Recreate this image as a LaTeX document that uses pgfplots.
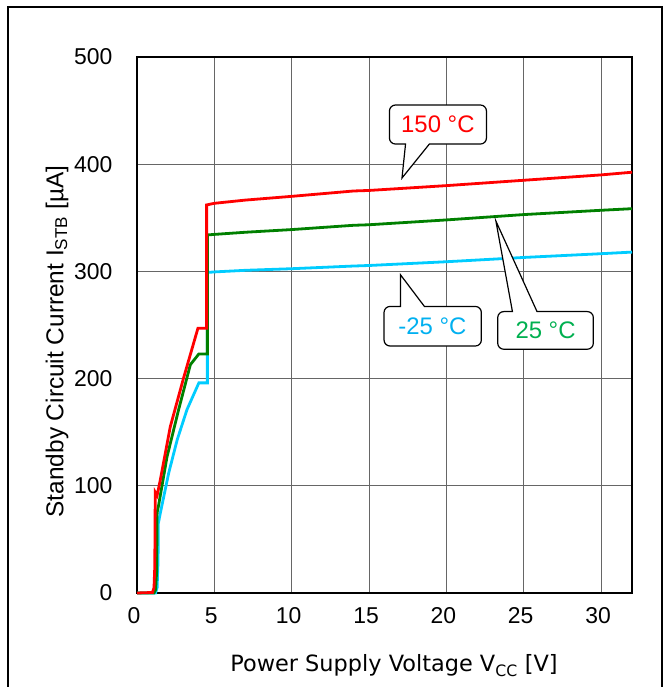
\documentclass[border=0pt]{standalone}
\usepackage{fontspec}
\setmainfont{Liberation Sans}
\newfontfamily\dejavu{DejaVu Sans}
\usepackage{pgfplots}
\pgfplotsset{compat=1.18}
\definecolor{lred}{RGB}{255,0,0}
\definecolor{lgreen}{RGB}{0,128,0}
\definecolor{lcyan}{RGB}{0,204,255}
\definecolor{tgreen}{RGB}{0,176,80}
\definecolor{tcyan}{RGB}{0,176,240}
\begin{document}
\begin{tikzpicture}[x=1bp,y=1bp]
\useasboundingbox (0,0) rectangle (670,687);
\draw[line width=2bp] (8,-20) -- (8,680) -- (662,680) -- (662,-20);
\begin{axis}[at={(137bp,94bp)}, anchor=south west, scale only axis,
  width=495bp, height=536bp,
  xmin=0, xmax=32, ymin=0, ymax=500,
  xtick={0,5,...,30}, ytick={0,100,...,500},
  grid=major, major grid style={line width=1bp, color=black!60},
  major tick length=0pt, axis line style={line width=2.5bp},
  tick label style={font=\fontsize{23}{25}\selectfont},
  /pgf/number format/assume math mode=true,
  xticklabel style={yshift=-11bp, xshift=-3bp},
  yticklabel style={xshift=-21bp},
  clip=false]
\addplot[lcyan, line width=2.8bp] coordinates {
(0,0) (1.2,0) (1.3,5) (1.36,30) (1.38,65) (1.5,74) (2.05,112) (2.6,143) (3.23,171) (4.0,196) (4.55,196) (4.55,299)
(5,299.5) (7,301) (10,302.5) (14,305) (15,305.5) (20,309) (25,313) (30,316.5) (32,318)};
\addplot[lgreen, line width=2.8bp] coordinates {
(0,0) (1.1,0) (1.2,3) (1.27,20) (1.3,75) (1.4,82) (1.94,127) (2.69,171) (3.45,213) (4.0,223) (4.55,223) (4.55,334)
(5,334.5) (7,336.5) (10,339) (14,343) (15,343.5) (20,348) (25,353) (30,357) (32,358.5)};
\addplot[lred, line width=2.8bp] coordinates {
(0,0) (1.0,0.5) (1.1,5) (1.15,25) (1.18,94) (1.3,91) (1.5,105) (2.15,155) (3.0,200) (3.94,247) (4.5,247) (4.5,362)
(5,363.5) (7,366.5) (10,370) (14,375) (15,375.5) (20,380) (25,385) (30,390) (32,392.5)};
% callouts
\draw[line width=1.2bp, fill=white] (axis cs:17.36,418.8) -- (axis cs:17.13,387.1) -- (axis cs:18.9,418.8)
  [rounded corners=6bp] -- (axis cs:22.59,418.8) -- (axis cs:22.59,455.2) -- (axis cs:16.32,455.2) -- (axis cs:16.32,418.8) [sharp corners] -- cycle;
\node[text=lred, font=\fontsize{24}{26}\selectfont] at (axis cs:19.45,437) {150 °C};
\draw[line width=1.2bp, fill=white] (axis cs:18.58,267.3) -- (axis cs:17.03,296.9) -- (axis cs:17.03,267.3)
  [rounded corners=6bp] -- (axis cs:15.97,267.3) -- (axis cs:15.97,230.4) -- (axis cs:22.26,230.4) -- (axis cs:22.26,267.3) [sharp corners] -- cycle;
\node[text=tcyan, font=\fontsize{24}{26}\selectfont] at (axis cs:19.1,249) {-25 °C};
\draw[line width=1.2bp, fill=white] (axis cs:25.86,262.5) -- (axis cs:23.2,347) -- (axis cs:24.27,262.5)
  [rounded corners=6bp] -- (axis cs:23.32,262.5) -- (axis cs:23.32,227.4) -- (axis cs:29.5,227.4) -- (axis cs:29.5,262.5) [sharp corners] -- cycle;
\node[text=tgreen, font=\fontsize{24}{26}\selectfont] at (axis cs:26.41,245) {25 °C};
\end{axis}
\node[rotate=90, font=\fontsize{24.5}{26}\selectfont] at (57,345.5) {Standby Circuit Current I\textsubscript{STB} [µA]};
\node[anchor=base, font=\dejavu\fontsize{22.5}{25}\selectfont] at (394,15) {Power Supply Voltage V\textsubscript{CC} [V]};
\end{tikzpicture}
\end{document}
